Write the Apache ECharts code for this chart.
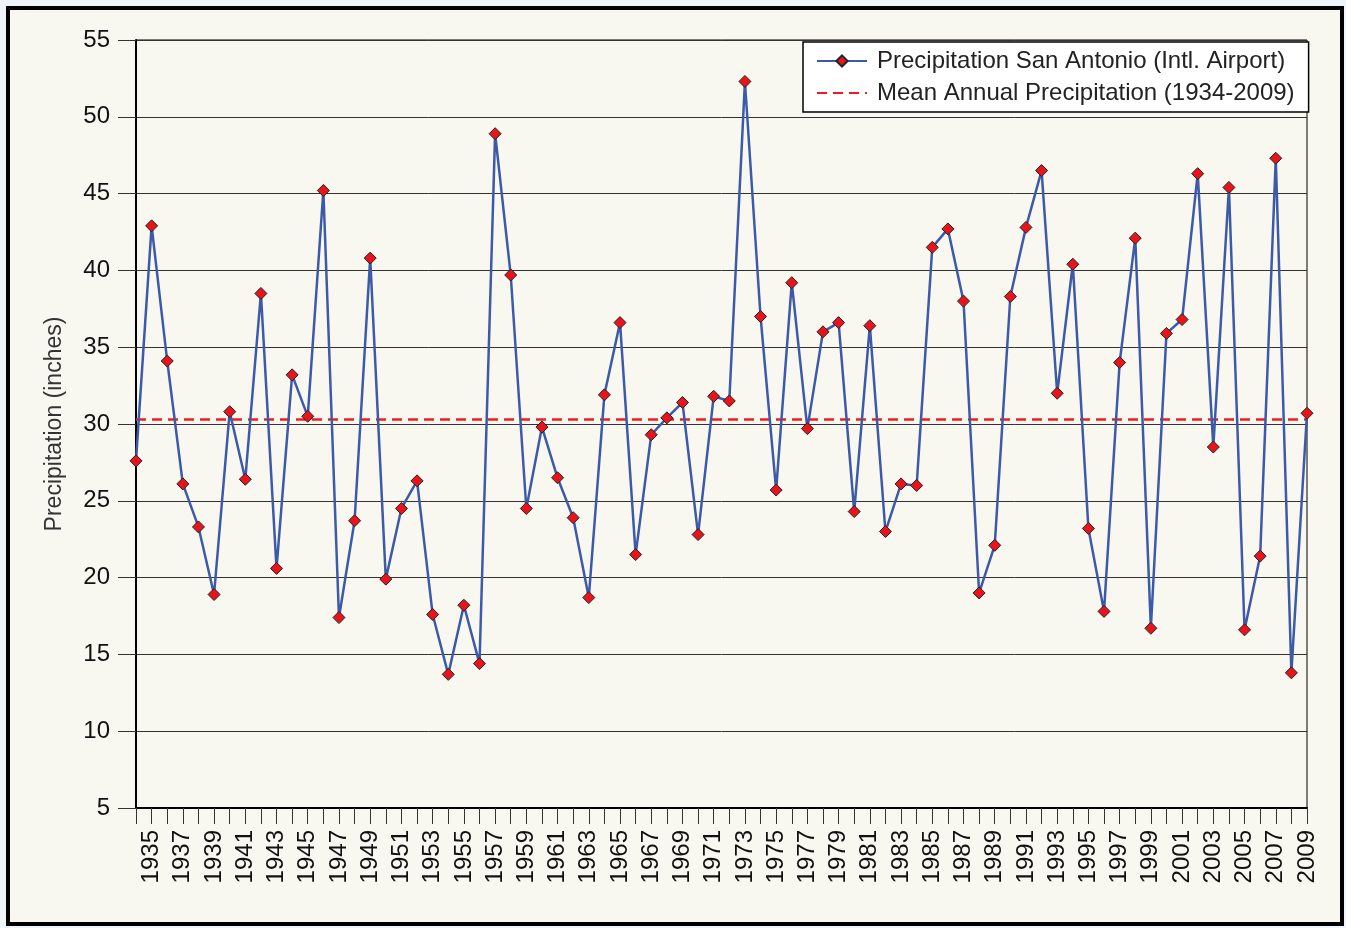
<!DOCTYPE html>
<html>
<head>
<meta charset="utf-8">
<script src="https://cdn.jsdelivr.net/npm/echarts@6/dist/echarts.min.js"></script>
<style>
html,body{margin:0;padding:0;background:#eef6fc;}
#chart{width:1346px;height:928px;}
</style>
</head>
<body>
<div id="chart"></div>
<script>
const years = [];
for (let y = 1934; y <= 2009; y++) years.push(String(y));

const precipitation = [
  27.6, 42.9, 34.1, 26.1, 23.3, 18.9, 30.8, 26.4, 38.5, 20.6,
  33.2, 30.5, 45.2, 17.4, 23.7, 40.8, 19.9, 24.5, 26.3, 17.6,
  13.7, 18.2, 14.4, 48.9, 39.7, 24.5, 29.8, 26.5, 23.9, 18.7,
  31.9, 36.6, 21.5, 29.3, 30.4, 31.4, 22.8, 31.8, 31.5, 52.3,
  37.0, 25.7, 39.2, 29.7, 36.0, 36.6, 24.3, 36.4, 23.0, 26.1,
  26.0, 41.5, 42.7, 38.0, 19.0, 22.1, 38.3, 42.8, 46.5, 32.0,
  40.4, 23.2, 17.8, 34.0, 42.1, 16.7, 35.9, 36.8, 46.3, 28.5,
  45.4, 16.6, 21.4, 47.3, 13.8, 30.7
];
const meanPrecipitation = 30.3;
const meanSeries = years.map(() => meanPrecipitation);

const seriesNames = ['Precipitation San Antonio (Intl. Airport)', 'Mean Annual Precipitation (1934-2009)'];
const yAxisTitle = 'Precipitation (inches)';

const chart = echarts.init(document.getElementById('chart'));
const FONT = '"Liberation Sans", Arial, sans-serif';

chart.setOption({
  backgroundColor: '#eef6fc',
  textStyle: { fontFamily: FONT },
  graphic: [{
    type: 'rect',
    z: -10,
    silent: true,
    shape: { x: 8, y: 8, width: 1334, height: 916 },
    style: { fill: '#f8f8f0', stroke: '#000', lineWidth: 4 }
  }],
  grid: {
    left: 136, right: 39, top: 40, bottom: 120,
    show: true, borderColor: '#000', borderWidth: 1, backgroundColor: 'transparent'
  },
  legend: {
    orient: 'vertical',
    left: 803, top: 42,
    backgroundColor: '#fff',
    borderColor: '#000',
    borderWidth: 1.5,
    borderRadius: 0,
    padding: [6, 14, 6, 13],
    itemWidth: 50, itemHeight: 14, itemGap: 6,
    textStyle: { fontFamily: FONT, fontSize: 24, color: '#222', lineHeight: 26, padding: [0, 0, 0, 5] },
    data: [
      { name: seriesNames[0] },
      { name: seriesNames[1], itemStyle: { opacity: 0 } }
    ]
  },
  xAxis: {
    type: 'category',
    data: years,
    boundaryGap: false,
    axisLine: { lineStyle: { color: '#000', width: 2 } },
    axisTick: { show: true, interval: 0, length: 16, lineStyle: { color: '#333', width: 1 } },
    axisLabel: {
      interval: (i) => i % 2 === 1,
      rotate: 90,
      margin: 22,
      fontSize: 24,
      color: '#111',
      fontFamily: FONT
    },
    splitLine: { show: false }
  },
  yAxis: {
    type: 'value',
    min: 5, max: 55, interval: 5,
    name: yAxisTitle,
    nameLocation: 'middle',
    nameGap: 70,
    nameTextStyle: { fontSize: 23, color: '#333', fontFamily: FONT },
    axisLine: { show: true, lineStyle: { color: '#000', width: 2 } },
    axisTick: { show: true, length: 18, lineStyle: { color: '#333', width: 1 } },
    axisLabel: { margin: 26, fontSize: 24, color: '#111', fontFamily: FONT },
    splitLine: { lineStyle: { color: '#333', width: 1 } }
  },
  series: [
    {
      name: seriesNames[0],
      type: 'line',
      data: precipitation,
      symbol: 'diamond',
      symbolSize: 12,
      showAllSymbol: true,
      lineStyle: { color: '#3c5aa8', width: 2.5 },
      itemStyle: { color: '#e8141c', borderColor: '#222', borderWidth: 1 },
      z: 3,
      animation: false
    },
    {
      name: seriesNames[1],
      type: 'line',
      data: meanSeries,
      symbol: 'none',
      lineStyle: { color: '#ee1c24', width: 2.5, type: [10, 6] },
      itemStyle: { color: '#ee1c24' },
      z: 2,
      animation: false
    }
  ]
});
</script>
</body>
</html>
